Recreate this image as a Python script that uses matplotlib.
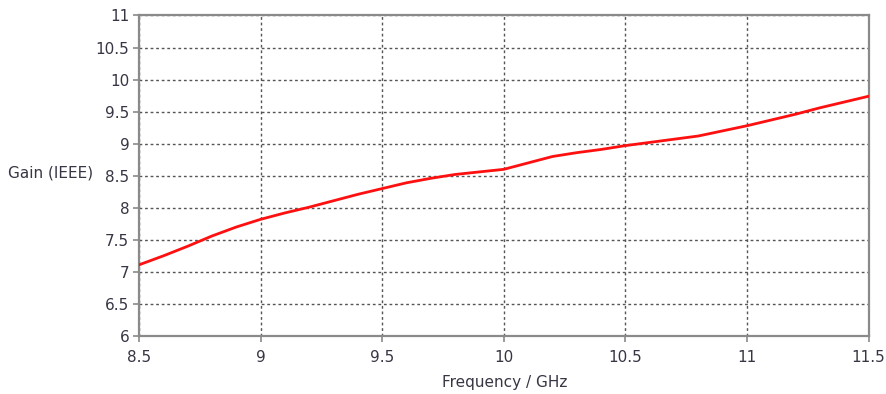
import matplotlib.pyplot as plt
import numpy as np

plt.rcParams['font.family'] = ['DejaVu Sans']

# gain curve (IEEE) vs frequency
freq = [8.5, 8.6, 8.7, 8.8, 8.9, 9.0, 9.1, 9.2, 9.3, 9.4, 9.5, 9.6, 9.7, 9.8, 9.9,
        10.0, 10.1, 10.2, 10.3, 10.4, 10.5, 10.6, 10.7, 10.8, 10.9, 11.0, 11.1,
        11.2, 11.3, 11.4, 11.5]
gain = [7.11, 7.25, 7.40, 7.56, 7.70, 7.82, 7.92, 8.01, 8.11, 8.21, 8.30, 8.39,
        8.46, 8.52, 8.56, 8.60, 8.70, 8.80, 8.86, 8.91, 8.97, 9.02, 9.07, 9.12,
        9.20, 9.28, 9.37, 9.46, 9.56, 9.65, 9.74]

xticks = [8.5, 9, 9.5, 10, 10.5, 11, 11.5]
xtick_labels = ["8.5", "9", "9.5", "10", "10.5", "11", "11.5"]
yticks = [6, 6.5, 7, 7.5, 8, 8.5, 9, 9.5, 10, 10.5, 11]
ytick_labels = ["6", "6.5", "7", "7.5", "8", "8.5", "9", "9.5", "10", "10.5", "11"]

txt = "#363644"

fig = plt.figure(figsize=(8.87, 3.94), dpi=100)
ax = fig.add_axes([0.1567, 0.1472, 0.8225, 0.8135])

ax.plot(freq, gain, color="#ff1010", linewidth=2.0, zorder=3)

ax.set_xlim(8.5, 11.5)
ax.set_ylim(6, 11)
ax.set_xticks(xticks)
ax.set_xticklabels(xtick_labels)
ax.set_yticks(yticks)
ax.set_yticklabels(ytick_labels)

ax.grid(True, color="#555555", linestyle=(0, (2, 2)), linewidth=1.0)
for s in ax.spines.values():
    s.set_color("#8a8a8a")
    s.set_linewidth(1.6)

ax.tick_params(axis="both", colors="#8a8a8a", labelcolor=txt, labelsize=11,
               length=4, width=1.2)
ax.tick_params(axis="x", pad=6)
ax.tick_params(axis="y", pad=3)

fig.text(0.009, 0.56, "Gain (IEEE)", color=txt, fontsize=11,
         ha="left", va="center")
fig.text(0.569, 0.028, "Frequency / GHz", color=txt, fontsize=11,
         ha="center", va="center")

fig.savefig("out.png", dpi=100)
